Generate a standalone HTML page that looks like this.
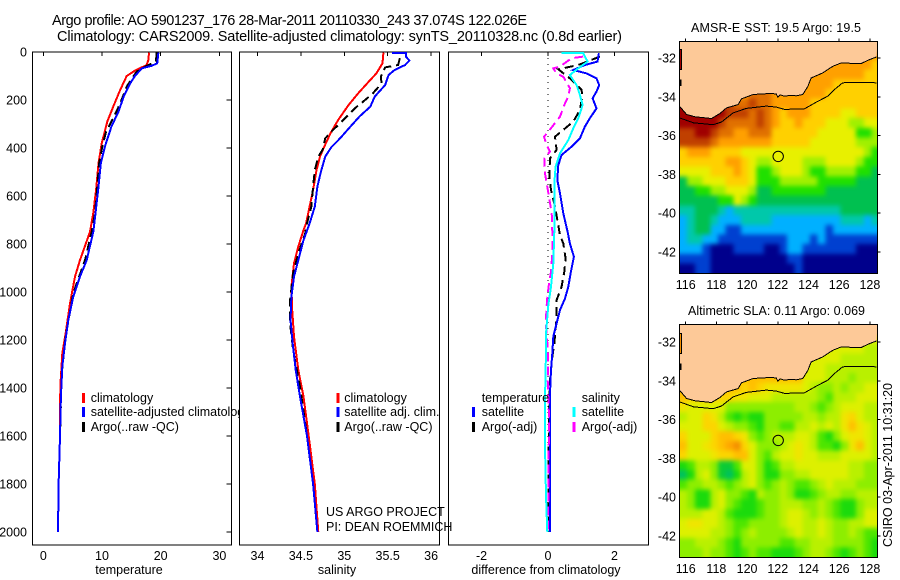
<!DOCTYPE html>
<html lang="en">
<head>
<meta charset="utf-8">
<title>Argo profile AO 5901237_176</title>
<style>
html,body{margin:0;padding:0;background:#fff;width:900px;height:580px;overflow:hidden}
svg{display:block}
text{font-family:"Liberation Sans",Arial,sans-serif;font-size:12.5px;fill:#000}
</style>
</head>
<body>
<svg id="chart" xmlns="http://www.w3.org/2000/svg" width="900" height="580" viewBox="0 0 900 580">
  <rect x="0" y="0" width="900" height="580" fill="#fff"/>
  <text x="52" y="25" textLength="475" style="font-size:14.5px">Argo profile: AO 5901237_176 28-Mar-2011 20110330_243 37.074S 122.026E</text>
  <text x="57" y="41" textLength="565" style="font-size:14.5px">Climatology: CARS2009. Satellite-adjusted climatology: synTS_20110328.nc (0.8d earlier)</text>
  <g id="panels"></g>
  <g id="maps"></g>
  <text x="326" y="516">US ARGO PROJECT</text>
  <text x="326" y="531">PI: DEAN ROEMMICH</text>
  <text transform="translate(892,547) rotate(-90)" textLength="164">CSIRO 03-Apr-2011 10:31:20</text>
</svg>
<script>
// ---- temperature panel data
const tempClimDepth=[3,33,54,78,100,158,228,290,381,464,575,672,749,867,936,1048,1173,1256,1395,1600,1800,2000];
const tempClim=[18.0,17.9,17.6,15.6,14.2,13.1,11.9,10.9,9.95,9.4,9.0,8.5,7.96,6.25,5.4,4.55,3.8,3.24,2.9,2.85,2.6,2.5];
const tempSatDepth=[3,47,57,68,100,131,186,249,311,394,464,561,672,749,867,936,1020,1117,1214,1311,1436,1600,1800,2000];
const tempSat=[19.6,19.4,18.5,16.8,15.6,14.8,13.7,12.8,11.6,10.5,9.8,9.4,8.9,8.52,7.39,6.25,5.1,4.26,3.7,3.24,3.0,2.85,2.6,2.5];
const tempArgoDepth=[3,40,58,82,144,214,276,332,387,464,561,672,749,867,1006,1186,1340,1600,1800,2000];
const tempArgo=[19.3,19.2,17.6,15.9,14.2,13.1,11.9,10.7,10.1,9.5,9.2,8.8,8.24,7.1,5.1,3.8,3.13,2.85,2.6,2.5];
// ---- salinity panel data
const salClimDepth=[3,47,89,124,172,221,283,339,394,436,492,575,644,714,742,811,881,978,1075,1186,1325,1436,1600,1800,2000];
const salClim=[35.45,35.44,35.37,35.28,35.16,35.05,34.93,34.84,34.77,34.72,34.68,34.64,34.6,34.56,34.53,34.47,34.42,34.39,34.4,34.42,34.47,34.53,34.59,34.66,34.7];
const salSatDepth=[5,5,19,36,54,75,96,138,186,228,267,311,360,397,436,499,561,644,714,784,867,936,1020,1117,1214,1325,1436,1600,1800,2000];
const salSat=[35.55,35.71,35.71,35.75,35.7,35.58,35.51,35.47,35.35,35.3,35.18,35.07,34.95,34.85,34.78,34.73,34.69,34.66,34.6,34.53,34.47,34.42,34.39,34.38,34.405,34.44,34.49,34.57,34.64,34.69];
const salArgoDepth=[26,54,64,103,131,172,200,235,276,325,360,408,436,492,561,644,714,756,839,922,1034,1131,1242,1395,1600,1800,2000];
const salArgo=[35.64,35.62,35.47,35.42,35.43,35.33,35.24,35.12,35.01,34.87,34.78,34.75,34.7,34.66,34.64,34.62,34.57,34.55,34.47,34.41,34.375,34.375,34.41,34.49,34.57,34.64,34.69];
// ---- difference panel data
const diffTempSatDepth=[5,40,54,75,89,110,138,165,193,235,276,311,360,394,429,471,533,589,672,749,798,853,916,978,1027,1075,1131,1186,1256,1325,1423,1561,2000];
const diffTempSat=[1.53,1.49,1.11,0.76,1.16,1.46,1.54,1.46,1.34,1.46,1.26,1.11,0.96,0.71,0.41,0.31,0.28,0.36,0.46,0.59,0.66,0.78,0.69,0.61,0.51,0.36,0.26,0.16,0.13,0.09,0.06,0.06,0.06];
const diffTempArgoDepth=[19,54,72,110,158,186,242,290,353,408,443,519,575,644,763,798,860,916,978,1034,1110,1214,1270,1367,1520,2000];
const diffTempArgo=[1.56,0.91,0.31,0.66,1.01,1.03,0.96,0.76,0.21,0.26,0.06,0.04,0.09,0.21,0.36,0.46,0.53,0.49,0.41,0.26,0.26,0.19,0.13,0.06,0.03,0.0];
const diffSalSatDepth=[5,5,40,68,96,138,179,221,276,318,367,422,478,547,644,749,881,978,1055,1173,1325,1436,1645,1850,2000];
const diffSalSat=[0.41,1.06,1.19,0.91,0.66,0.86,0.96,1.04,0.91,0.76,0.61,0.36,0.23,0.19,0.19,0.19,0.16,0.09,0.01,-0.06,-0.07,-0.09,-0.09,-0.06,-0.02];
const diffSalArgoDepth=[19,26,61,68,89,103,151,186,214,269,332,353,388,415,443,506,547,603,672,749,839,916,964,1034,1131,1186,1298,1367,1520,2000];
const diffSalArgo=[1.06,0.71,0.36,0.16,0.26,0.46,0.66,0.61,0.51,0.36,0.01,-0.12,-0.04,0.06,-0.11,-0.09,-0.04,0.03,0.11,0.13,0.13,0.09,0.03,-0.03,-0.07,-0.03,0.01,-0.01,0.03,0.0];
// ---- axis labels
const depthTicks=[0,200,400,600,800,1000,1200,1400,1600,1800,2000];
const tempTicks=[0,10,20,30];
const salTicks=[34,34.5,35,35.5,36];
const diffTicks=[-2,0,2];
const lonTicks=[116,118,120,122,124,126,128];
const latTicks=[-32,-34,-36,-38,-40,-42];
// ---- SST map (deg C), 0.5 degree cells, north to south
const sstGrid=[
[22,22,22,22,22,22,22,22,22,22,22,22,22,22,22,22,22,22,22,22,22,22,22,22,22,22],
[22,22,22,22,22,22,22,22,22,22,22,22,22,22,22,22,22,22,22,22,22,22,22,22,22,22],
[22,22,22,22,22,22,22,22,22,22,22,22,22,22,22,22,22,22,22,22,22,22,22,22,22,21],
[22,22,22,22,22,22,22,22,22,22,22,22,22,22,22,22,22,22,22,22,22,22,22,22,21,21],
[22,22,22,22,22,22,22,22,22,22,22,22,22,22,22,22,22,22,22,22,21,21,21,21,21,21],
[22,22,22,22,22,22,22,22,22,23,23,23,22,22,22,22,22,22,22,21,21,21,21,21,21,21],
[25,25,25,25,25,24,24,23,23,24,23,23,22,22,22,22,22,21,21,21,21,21,21,21,21,21],
[25,25,25,25,25,25,24,24,24,23,24,23,22,21,22,22,22,21,21,21,21,20,20,21,21,21],
[25,25,25,25,25,24,23,23,23,23,24,23,22,21,21,22,21,21,21,20,20,20,19,19,20,20],
[24,24,25,25,24,23,23,22,22,23,23,23,21,21,21,21,21,21,20,20,20,20,20,18,18,19],
[24,24,24,24,23,22,22,22,22,22,22,22,21,21,21,21,21,20,20,20,20,20,20,19,19,19],
[21,22,22,22,21,21,21,21,20,20,20,20,20,20,20,20,20,20,20,20,20,20,20,20,19,18],
[21,21,21,21,21,21,22,22,21,20,19,19,20,20,20,20,19,19,19,20,20,20,20,19,18,18],
[20,20,20,20,21,21,21,22,21,20,18,18,19,20,20,20,19,18,18,19,19,19,19,18,18,17],
[17,19,19,20,20,20,21,21,21,20,18,18,18,19,19,19,19,19,18,18,18,18,18,17,17,17],
[17,17,18,18,19,19,20,20,20,19,17,17,18,18,18,18,18,18,18,17,17,17,17,17,17,17],
[17,17,17,17,17,18,18,20,19,18,17,17,17,17,17,17,17,17,17,17,17,17,17,17,17,17],
[16,16,17,17,17,16,15,16,16,16,16,16,16,16,16,16,16,16,16,16,16,17,17,17,17,17],
[15,16,17,17,16,15,15,15,16,16,16,16,15,15,15,15,15,15,15,15,15,16,16,16,15,16],
[15,16,17,17,15,15,14,14,15,15,15,15,15,15,15,15,15,15,15,14,15,15,15,15,15,15],
[15,16,16,15,15,14,14,14,14,14,14,14,14,14,15,15,15,14,15,14,14,14,14,14,14,14],
[15,15,15,14,13,13,13,14,14,14,14,13,13,14,15,15,14,14,14,14,14,14,14,13,13,13],
[14,14,14,14,13,13,13,13,13,13,13,13,13,13,14,14,13,13,13,13,13,13,13,13,13,13],
[13,13,14,14,13,13,13,13,13,13,13,13,13,13,13,14,13,13,13,13,13,13,13,13,13,13]
];
// ---- SLA map (cm), 0.5 degree cells, north to south
const slaGrid=[
[15,15,15,15,15,15,15,15,15,15,15,15,15,15,15,15,15,15,15,15,15,15,15,15,15,15],
[15,15,15,15,15,15,15,15,15,15,15,15,15,15,15,15,15,15,15,15,15,15,15,15,15,15],
[15,15,15,15,15,15,15,15,15,15,15,15,15,15,15,15,15,15,15,15,15,15,15,15,10,10],
[15,15,15,15,15,15,15,15,15,15,15,15,15,15,15,15,15,15,15,15,15,10,10,10,10,10],
[15,15,15,15,15,15,15,15,15,15,15,15,15,15,15,15,15,15,15,10,10,10,10,10,10,10],
[30,30,30,30,30,30,30,30,30,30,30,30,30,30,30,30,15,15,15,10,10,10,5,10,10,10],
[30,30,30,30,30,30,30,30,25,30,25,20,20,20,20,20,15,10,5,5,10,5,10,10,15,15],
[30,25,25,30,25,25,25,20,20,15,15,15,10,10,10,10,10,10,5,0,10,10,10,15,15,15],
[20,15,15,15,15,15,5,5,5,5,5,5,5,5,5,10,10,5,0,5,10,15,15,15,10,10],
[10,15,15,25,20,10,0,-5,0,-5,-5,5,5,5,5,5,10,10,5,10,10,20,25,15,10,10],
[15,15,15,25,25,15,10,5,5,0,-5,5,5,0,0,10,10,15,10,15,10,20,30,20,15,10],
[25,15,15,15,25,30,30,25,20,5,0,5,10,10,10,15,15,10,0,-5,5,15,20,20,15,10],
[30,15,15,20,25,30,35,40,25,15,5,5,5,10,15,20,15,10,0,0,-5,5,20,30,15,10],
[25,15,15,15,20,25,25,30,30,15,5,0,10,15,15,20,15,15,10,10,10,15,15,15,15,10],
[-5,0,10,10,5,-10,-10,0,15,15,5,-5,0,10,10,15,15,15,15,15,15,15,10,10,5,5],
[-15,-5,10,15,5,-10,-15,-5,10,15,5,-5,-5,5,5,10,10,15,15,15,15,15,10,10,5,5],
[0,5,5,10,10,5,0,5,10,15,5,0,5,10,5,0,0,5,10,15,10,10,10,5,5,5],
[10,5,-5,-5,10,15,5,5,0,-5,10,5,5,10,5,-5,-5,0,5,10,10,5,5,10,10,10],
[10,5,-5,-5,10,15,5,0,-5,-5,0,5,5,10,10,10,5,5,10,5,0,-5,-5,5,10,10],
[10,10,10,15,15,10,0,-5,-5,-5,0,5,5,10,15,15,10,5,10,5,0,-5,-5,5,15,15],
[15,20,20,15,15,10,5,0,0,5,5,5,5,10,15,15,10,10,15,10,5,5,10,10,15,15],
[15,15,15,15,10,10,5,0,5,10,5,5,5,5,10,15,10,10,15,10,5,5,10,5,0,0],
[5,5,10,10,10,5,0,-5,5,5,5,5,5,0,0,5,5,10,10,10,5,5,5,5,0,-5],
[5,5,5,10,5,5,0,-5,0,5,0,0,-5,-5,-5,0,5,10,10,5,0,-5,0,5,0,-5]
];
// ---- geography
const coastLon=[115.59,116.06,116.61,117.69,118.23,118.66,119.2,119.42,119.63,120.39,121.47,121.9,122.0,122.15,122.44,122.8,123.2,123.63,123.96,124.17,124.93,125.58,126.12,127.42,127.96,128.43];
const coastLat=[-34.48,-34.91,-35.03,-35.12,-34.86,-34.57,-34.45,-34.4,-34.11,-33.88,-33.83,-33.85,-34.02,-33.9,-33.97,-33.93,-33.95,-33.88,-33.46,-33.03,-32.77,-32.43,-32.26,-32.29,-32.09,-31.95];
const isobathLon=[115.59,116.5,117.8,118.33,119.09,119.95,121.25,121.9,122.44,123.74,124.5,125.25,125.69,126.23,127.09,128.43];
const isobathLat=[-35.08,-35.34,-35.44,-35.3,-34.83,-34.6,-34.48,-34.53,-34.65,-34.62,-34.28,-33.97,-33.63,-33.28,-33.25,-33.28];
const islandLon=[115.6,115.74,115.74,115.6];
const islandLat=[-31.55,-31.55,-32.6,-32.6];
const reefLon=[115.66,115.66];
const reefLat=[-33.1,-33.45];
const profileLon=122.026;
const profileLat=-37.074;

const NS='http://www.w3.org/2000/svg';
const panelsG=document.getElementById('panels');
const mapsG=document.getElementById('maps');
function mk(tag,attrs,parent,txt){
  const el=document.createElementNS(NS,tag);
  for(const k in attrs){el.setAttribute(k,attrs[k]);}
  if(txt!==undefined){el.textContent=txt;}
  parent.appendChild(el);
  return el;
}
const yDepth=d=>52+0.24*d;
const xTemp=v=>43.3+5.87*v;
const xSal=v=>257.5+86.8*(v-34);
const xDiff=v=>548+33.25*v;

function series(g,xf,vals,depths,color,dash,name){
  const pts=vals.map((v,i)=>xf(v).toFixed(1)+','+yDepth(depths[i]).toFixed(1)).join(' ');
  const el=mk('polyline',{points:pts,fill:'none',stroke:color,'stroke-width':2,'shape-rendering':'crispEdges','stroke-dasharray':dash?'9 5':'none'},g);
  
  
}
function legendEntry(g,xLine,xText,base,color,label,name){
  const ln=mk('line',{x1:xLine,x2:xLine,y1:base-9,y2:base+1,stroke:color,'stroke-width':3,'shape-rendering':'crispEdges'},g);
  
  
  const t=mk('text',{x:xText,y:base},g,label);
  
  
}
function panel(name,left,right,xf,ticks,axisTitle,titleX){
  const top=52,bottom=545;
  const g=mk('g',{},panelsG);
  
  
  const frame=mk('rect',{x:left,y:top,width:right-left,height:bottom-top,fill:'#fff',stroke:'#000','stroke-width':1,'shape-rendering':'crispEdges'},g);
  
  
  ticks.forEach(v=>{
    const t=mk('line',{x1:xf(v),x2:xf(v),y1:top,y2:top+4,stroke:'#000','stroke-width':1,'shape-rendering':'crispEdges'},g);
    
    
    const l=mk('text',{x:xf(v),y:560,'text-anchor':'middle'},g,String(v));
    
    
  });
  const at=mk('text',{x:titleX,y:574,'text-anchor':'middle'},g,axisTitle);
  
  
  return g;
}

// Panel 1: temperature
const p1=panel('temperature-panel',32.5,231.5,xTemp,tempTicks,'temperature',129);
depthTicks.forEach(d=>{
  const t=mk('line',{x1:226.5,x2:231.5,y1:yDepth(d),y2:yDepth(d),stroke:'#000','stroke-width':1,'shape-rendering':'crispEdges'},p1);
  
  
  const l=mk('text',{x:27,y:yDepth(d)+4.5,'text-anchor':'end'},p1,String(d));
  
  
});
series(p1,xTemp,tempClim,tempClimDepth,'#f00',false,'temperature-climatology-line');
series(p1,xTemp,tempArgo,tempArgoDepth,'#000',true,'temperature-argo-line');
series(p1,xTemp,tempSat,tempSatDepth,'#00f',false,'temperature-satellite-line');
legendEntry(p1,83.5,90.7,402,'#f00','climatology','temperature-legend-climatology');
legendEntry(p1,83.5,90.7,416,'#00f','satellite-adjusted climatology','temperature-legend-satellite');
legendEntry(p1,83.5,90.7,431,'#000','Argo(..raw -QC)','temperature-legend-argo');

// Panel 2: salinity
const p2=panel('salinity-panel',239.5,439.5,xSal,salTicks,'salinity',337);
series(p2,xSal,salClim,salClimDepth,'#f00',false,'salinity-climatology-line');
series(p2,xSal,salArgo,salArgoDepth,'#000',true,'salinity-argo-line');
series(p2,xSal,salSat,salSatDepth,'#00f',false,'salinity-satellite-line');
legendEntry(p2,338,344.3,402,'#f00','climatology','salinity-legend-climatology');
legendEntry(p2,338,344.3,416,'#00f','satellite adj. clim.','salinity-legend-satellite');
legendEntry(p2,338,344.3,431,'#000','Argo(..raw -QC)','salinity-legend-argo');

// Panel 3: differences
const p3=panel('difference-panel',448.5,648.5,xDiff,diffTicks,'difference from climatology',546);
const zero=mk('line',{x1:xDiff(0),x2:xDiff(0),y1:yDepth(0),y2:yDepth(2000),stroke:'#000','stroke-width':1,'stroke-dasharray':'1 5','shape-rendering':'crispEdges'},p3);


series(p3,xDiff,diffTempArgo,diffTempArgoDepth,'#000',true,'difference-temperature-argo-line');
series(p3,xDiff,diffTempSat,diffTempSatDepth,'#00f',false,'difference-temperature-satellite-line');
series(p3,xDiff,diffSalArgo,diffSalArgoDepth,'#f0f',true,'difference-salinity-argo-line');
series(p3,xDiff,diffSalSat,diffSalSatDepth,'#0ff',false,'difference-salinity-satellite-line');
const h1=mk('text',{x:481.7,y:402},p3,'temperature');


const h2=mk('text',{x:581.7,y:402},p3,'salinity');


legendEntry(p3,473.5,481.7,416,'#00f','satellite','difference-legend-temperature-satellite');
legendEntry(p3,473.5,481.7,431,'#000','Argo(-adj)','difference-legend-temperature-argo');
legendEntry(p3,574,581.7,416,'#0ff','satellite','difference-legend-salinity-satellite');
legendEntry(p3,574,581.7,431,'#f0f','Argo(-adj)','difference-legend-salinity-argo');

// Maps
const ramp=[[0,0,140],[0,64,208],[0,176,255],[0,200,170],[0,192,80],[32,224,0],[160,240,0],[232,240,0],[255,208,0],[255,160,0],[224,112,0],[192,64,0],[160,0,0]];
function rampColor(idx){
  const p=Math.max(0,Math.min(ramp.length-1,idx-13));
  const i=Math.floor(p),j=Math.min(ramp.length-1,i+1),f=p-i;
  const c=ramp[i].map((a,k)=>Math.round(a+(ramp[j][k]-a)*f));
  return 'rgb('+c.join(',')+')';
}
const mapX=lon=>685.7+(lon-116)*15.35;
function map(name,top,bottom,lat32y,grid,toIndex,islandValue,titleText,titleY,titleX,titleLen,labelY){
  const mapY=lat=>lat32y+(-32-lat)*19.4;
  const left=679.5,right=877.5;
  const pad=14;
  const g=mk('g',{},mapsG);
  
  
  const clipId=name+'-clip';
  const blurId=name+'-soften';
  const cp=mk('clipPath',{id:clipId},g);
  mk('rect',{x:left,y:top,width:right-left,height:bottom-top},cp);
  const fl=mk('filter',{id:blurId,filterUnits:'userSpaceOnUse',x:left-pad,y:top-pad,width:right-left+2*pad,height:bottom-top+2*pad,'color-interpolation-filters':'sRGB'},g);
  mk('feGaussianBlur',{stdDeviation:2.4},fl);
  const clip=mk('g',{'clip-path':'url(#'+clipId+')'},g);
  
  
  const cells=mk('g',{filter:'url(#'+blurId+')'},clip);
  
  
  grid.forEach((row,r)=>{
    row.forEach((v,c)=>{
      const lon0=115.6+c*0.5,lat0=-31.1-r*0.5;
      let x=mapX(lon0),y=mapY(lat0),w=7.9,h=10;
      if(c===0){x-=pad;w+=pad;}
      if(c===row.length-1){w+=pad;}
      if(r===0){y-=pad;h+=pad;}
      if(r===grid.length-1){h+=pad;}
      const rc=mk('rect',{x:x.toFixed(2),y:y.toFixed(2),width:w,height:h,fill:rampColor(toIndex(v)),'shape-rendering':'crispEdges'},cells);
      
      
    });
  });
  const landPts=coastLon.map((lon,i)=>mapX(lon).toFixed(1)+','+mapY(coastLat[i]).toFixed(1));
  const land=mk('polygon',{points:landPts.join(' ')+' '+right+','+top+' '+left+','+top,fill:'#fdc998'},clip);
  
  
  const coast=mk('polyline',{points:landPts.join(' '),fill:'none',stroke:'#000','stroke-width':1,'shape-rendering':'crispEdges'},clip);
  
  
  const isoPts=isobathLon.map((lon,i)=>mapX(lon).toFixed(1)+','+mapY(isobathLat[i]).toFixed(1)).join(' ');
  const iso=mk('polyline',{points:isoPts,fill:'none',stroke:'#000','stroke-width':1,'shape-rendering':'crispEdges'},clip);
  
  
  const islandPts=islandLon.map((lon,i)=>mapX(lon).toFixed(1)+','+mapY(islandLat[i]).toFixed(1)).join(' ');
  const island=mk('polygon',{points:islandPts,fill:rampColor(toIndex(islandValue)),stroke:'#000','stroke-width':1,'shape-rendering':'crispEdges'},clip);
  
  
  const reefPts=reefLon.map((lon,i)=>mapX(lon).toFixed(1)+','+mapY(reefLat[i]).toFixed(1)).join(' ');
  const reef=mk('polyline',{points:reefPts,fill:'none',stroke:'#000','stroke-width':1.5,'shape-rendering':'crispEdges'},clip);
  
  
  const frame=mk('rect',{x:left,y:top,width:right-left,height:bottom-top,fill:'none',stroke:'#000','stroke-width':1,'shape-rendering':'crispEdges'},g);
  
  
  const marker=mk('circle',{cx:mapX(profileLon).toFixed(1),cy:mapY(profileLat).toFixed(1),r:5.2,fill:'none',stroke:'#000','stroke-width':1},g);
  
  
  lonTicks.forEach(v=>{
    const t=mk('line',{x1:mapX(v),x2:mapX(v),y1:top-3,y2:top,stroke:'#000','stroke-width':1,'shape-rendering':'crispEdges'},g);
    
    
    const l=mk('text',{x:mapX(v),y:labelY,'text-anchor':'middle'},g,String(v));
    
    
  });
  latTicks.forEach(v=>{
    const t=mk('line',{x1:right,x2:right+3,y1:mapY(v),y2:mapY(v),stroke:'#000','stroke-width':1,'shape-rendering':'crispEdges'},g);
    
    
    const l=mk('text',{x:676,y:mapY(v)+4.5,'text-anchor':'end'},g,String(v));
    
    
  });
  const title=mk('text',{x:titleX,y:titleY,textLength:titleLen},g,titleText);
  
  
}
map('sst-map',41.5,273.5,58,sstGrid,v=>v,25,'AMSR-E SST: 19.5  Argo: 19.5',32,691,170,289);
map('sla-map',324.5,557.5,342,slaGrid,v=>19.35+(v-10)/10,40,'Altimetric SLA: 0.11  Argo: 0.069',315,688,177,573);
</script>
</body>
</html>
